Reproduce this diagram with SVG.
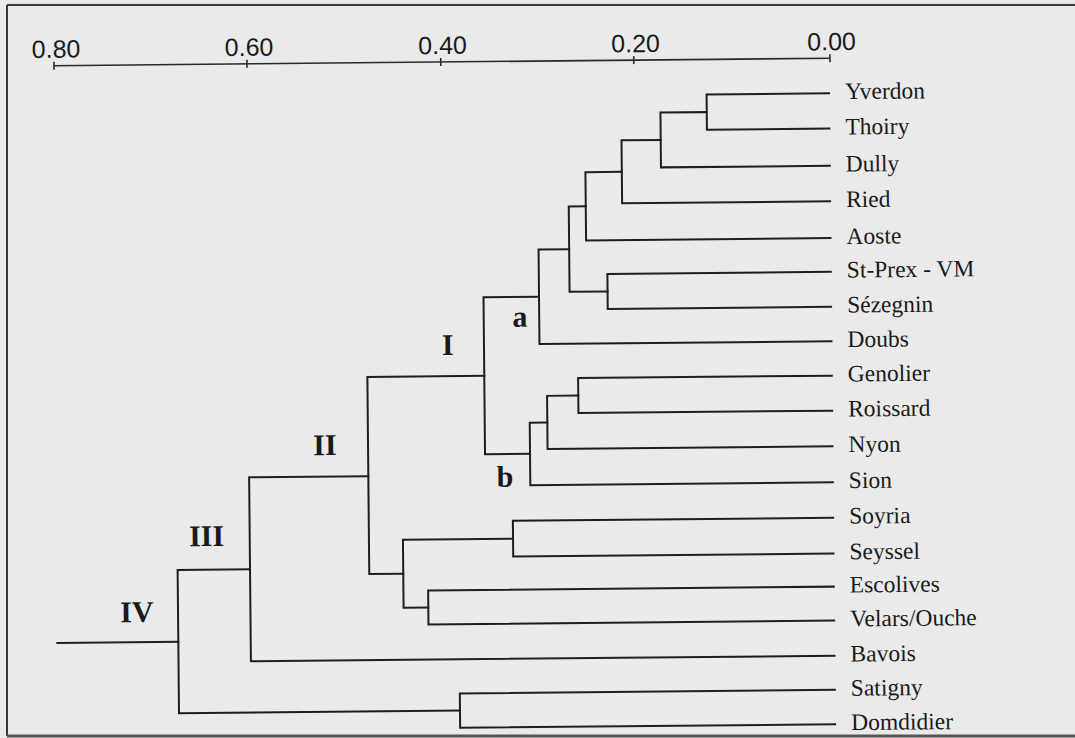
<svg xmlns="http://www.w3.org/2000/svg" width="1075" height="738" viewBox="0 0 1075 738">
<style>
.ln{fill:none;stroke:#1e1e1e;stroke-width:2;stroke-linecap:square}
.ax{fill:none;stroke:#2a2a2a;stroke-width:1.6}
.lf{font-family:"Liberation Serif","Times New Roman",serif;font-size:23.5px;fill:#1a1a1a}
.tk{font-family:"Liberation Sans",Arial,sans-serif;font-size:25px;fill:#1a1a1a;text-anchor:middle}
.cl{font-family:"Liberation Serif","Times New Roman",serif;font-size:30px;font-weight:bold;fill:#1a1a1a;text-anchor:middle}
</style>
<rect x="0" y="0" width="1075" height="738" fill="#eaeaea"/>
<g id="frame" fill="none" stroke="#3a3a3a">
<line x1="7" y1="5" x2="1075" y2="5" stroke-width="2"/>
<line x1="7" y1="5" x2="7" y2="736" stroke-width="2"/>
<line x1="7" y1="736" x2="1075" y2="736" stroke-width="3" stroke="#555"/>
</g>
<g transform="rotate(-0.55 440 400)">
<g id="axis">
<line class="ax" x1="57.2" y1="62" x2="833.2" y2="62"/>
<path class="ax" d="M57.2 58V66M250.2 58V66M444 58V66M637 58V66M833.2 58V66"/>
<text class="tk" x="59.5" y="54">0.80</text>
<text class="tk" x="252.5" y="54">0.60</text>
<text class="tk" x="446" y="54">0.40</text>
<text class="tk" x="639" y="54">0.20</text>
<text class="tk" x="835" y="54">0.00</text>
</g>
<g id="connectors">
<path class="ln" d="M832 97H709.5V132.3H832"/>
<path class="ln" d="M709.5 114.7H663.2V169.5H832"/>
<path class="ln" d="M663.2 142.1H624V205H832"/>
<path class="ln" d="M624 173.6H587.6V241.8H832"/>
<path class="ln" d="M832 275.5H608.6V310.5H832"/>
<path class="ln" d="M587.6 207.7H570.6V293H608.6"/>
<path class="ln" d="M570.6 250.4H540V345H832"/>
<path class="ln" d="M832 379.4H578.3V414.4H832"/>
<path class="ln" d="M578.3 396.9H547.1V450H832"/>
<path class="ln" d="M547.1 423.5H529.5V486H832"/>
<path class="ln" d="M540 297.7H484.5V454.7H529.5"/>
<path class="ln" d="M832 521.5H511.7V557.3H832"/>
<path class="ln" d="M832 590.4H426.3V624.3H832"/>
<path class="ln" d="M511.7 539.4H401.6V607.4H426.3"/>
<path class="ln" d="M484.5 376.2H367.6V573.4H401.6"/>
<path class="ln" d="M367.6 475.5H248.4V659.5H832"/>
<path class="ln" d="M832 693.6H457V728H832"/>
<path class="ln" d="M248.4 567.5H176V710.8H457"/>
<path class="ln" d="M55 639.2H176"/>
</g>
<g id="cluster-labels">
<text class="cl" x="448.4" y="355">I</text>
<text class="cl" x="520.7" y="327.5">a</text>
<text class="cl" x="504.2" y="487.3">b</text>
<text class="cl" x="324.5" y="454">II</text>
<text class="cl" x="205.3" y="543.8">III</text>
<text class="cl" x="134.9" y="619.1">IV</text>
</g>
<g id="leaf-yverdon"><text class="lf" x="848" y="103">Yverdon</text></g>
<g id="leaf-thoiry"><text class="lf" x="848" y="138.3">Thoiry</text></g>
<g id="leaf-dully"><text class="lf" x="848" y="175.5">Dully</text></g>
<g id="leaf-ried"><text class="lf" x="848" y="211">Ried</text></g>
<g id="leaf-aoste"><text class="lf" x="848" y="247.8">Aoste</text></g>
<g id="leaf-stprex"><text class="lf" x="848" y="281.5">St-Prex - VM</text></g>
<g id="leaf-sezegnin"><text class="lf" x="848" y="316.5">Sézegnin</text></g>
<g id="leaf-doubs"><text class="lf" x="848" y="351">Doubs</text></g>
<g id="leaf-genolier"><text class="lf" x="848" y="385.4">Genolier</text></g>
<g id="leaf-roissard"><text class="lf" x="848" y="420.4">Roissard</text></g>
<g id="leaf-nyon"><text class="lf" x="848" y="456">Nyon</text></g>
<g id="leaf-sion"><text class="lf" x="848" y="492">Sion</text></g>
<g id="leaf-soyria"><text class="lf" x="848" y="527.5">Soyria</text></g>
<g id="leaf-seyssel"><text class="lf" x="848" y="563.3">Seyssel</text></g>
<g id="leaf-escolives"><text class="lf" x="848" y="596.4">Escolives</text></g>
<g id="leaf-velars"><text class="lf" x="848" y="630.3">Velars/Ouche</text></g>
<g id="leaf-bavois"><text class="lf" x="848" y="665.5">Bavois</text></g>
<g id="leaf-satigny"><text class="lf" x="848" y="699.6">Satigny</text></g>
<g id="leaf-domdidier"><text class="lf" x="848" y="734">Domdidier</text></g>
</g>
</svg>
